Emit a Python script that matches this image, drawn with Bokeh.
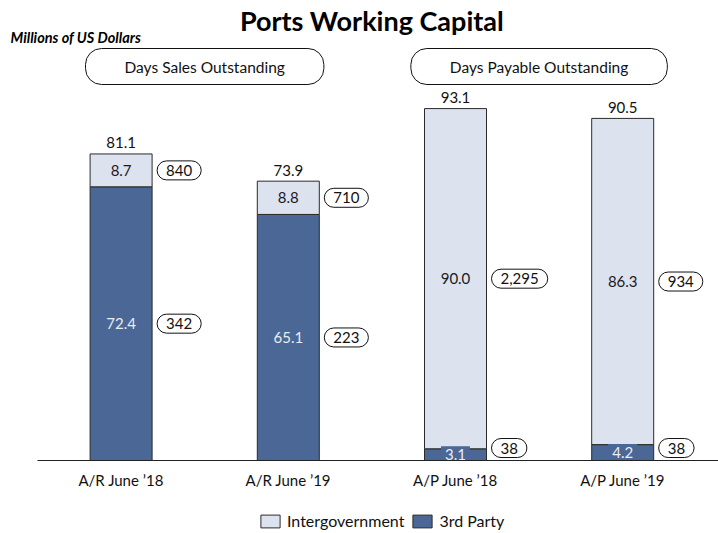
from bokeh.plotting import figure
from bokeh.models import Range1d, FixedTicker, ColumnDataSource, Legend, LegendItem
from bokeh.layouts import column
from bokeh.embed import file_html
from bokeh.resources import INLINE
from bokeh.core.properties import value

# ---- data ----
categories = ["A/R June \u201918", "A/R June \u201919", "A/P June \u201918", "A/P June \u201919"]
third_party = [72.4, 65.1, 3.1, 4.2]
intergov = [8.7, 8.8, 90.0, 86.3]
third_party_pill = ["342", "223", "38", "38"]
intergov_pill = ["840", "710", "2,295", "934"]
groups = ["Days Sales Outstanding", "Days Payable Outstanding"]
series = ["Intergovernment", "3rd Party"]
title_text = "Ports Working Capital"
subtitle_text = "Millions of US Dollars"

# ---- style / layout constants ----
FONT = "Lato"
DARK = "#4a6796"
LIGHT = "#dde3ee"
EDGE = "#2a2a2a"
W = 718
PXU = 3.78      # pixels per data unit (y)
XU = 167.2      # pixels per category step (x)
FRAME_H = 460
X0 = 120.6      # page x of first category
X_START = -X0 / XU
X_END = X_START + W / XU
BAR_W = 62 / XU

def ypx(page_y):
    return (FRAME_H - page_y) / PXU

def xpx(page_x):
    return X_START + page_x / XU

xs = list(range(len(categories)))
totals = [a + b for a, b in zip(third_party, intergov)]

src = ColumnDataSource(dict(
    x=xs,
    tp=third_party,
    tot=totals,
    tp_mid=[v / 2 for v in third_party],
    ig_mid=[a + b / 2 for a, b in zip(third_party, intergov)],
    tp_lbl=[f"{v:.1f}" for v in third_party],
    ig_lbl=[f"{v:.1f}" for v in intergov],
    tot_lbl=[f"{v:.1f}" for v in totals],
    pill_x=[x + BAR_W / 2 + 5 / XU for x in xs],
    tp_pill_y=[max(v / 2, 3.3) for v in third_party],
    tp_pill=third_party_pill,
    ig_pill=intergov_pill,
))

p = figure(width=W, height=505, output_backend="svg", toolbar_location=None,
           x_range=Range1d(X_START, X_END),
           y_range=Range1d(0, FRAME_H / PXU),
           min_border_left=0, min_border_right=0, min_border_top=0, min_border_bottom=45,
           y_axis_location=None)
p.outline_line_color = None
p.grid.visible = False
p.background_fill_color = "white"

# bars
r_dark = p.vbar(x="x", bottom=0, top="tp", width=BAR_W, source=src,
                fill_color=DARK, line_color=EDGE, line_width=1)
r_light = p.vbar(x="x", bottom="tp", top="tot", width=BAR_W, source=src,
                 fill_color=LIGHT, line_color=EDGE, line_width=1)

# in-bar labels
p.text(x="x", y="ig_mid", text="ig_lbl", source=src, text_font=value(FONT),
       text_font_size="15px", text_color="#1a1a1a", text_align="center", text_baseline="middle")
p.text(x="x", y="tp_mid", text="tp_lbl", source=src, text_font=value(FONT),
       text_font_size="15px", text_color="#e9edf4", text_align="center", text_baseline="middle",
       background_fill_color=DARK, padding=(4, 3))
# totals
p.text(x="x", y="tot", text="tot_lbl", source=src, text_font=value(FONT), y_offset=-11,
       text_font_size="15px", text_color="#111111", text_align="center", text_baseline="middle")

# pills
for ycol, tcol in (("ig_mid", "ig_pill"), ("tp_pill_y", "tp_pill")):
    p.text(x="pill_x", y=ycol, text=tcol, source=src, text_font=value(FONT),
           text_font_size="15px", text_color="#111111", text_align="left", text_baseline="middle",
           padding=(9, 4), border_radius=10, background_fill_color="white",
           border_line_color="#111111", border_line_width=1)

# group headers
hsrc = ColumnDataSource(dict(x=[0.5, 2.5], y=[ypx(66)] * 2, t=groups))
p.text(x="x", y="y", text="t", source=hsrc, text_font=value(FONT), text_font_size="15.5px",
       text_color="#111111", text_align="center", text_baseline="middle",
       padding=(39, 9), border_radius=16, background_fill_color="white",
       border_line_color="#111111", border_line_width=1)

# title & subtitle
p.text(x=[1.5], y=[ypx(20)], text=[title_text], text_font=value(FONT), text_font_size="27px",
       text_font_style="bold", text_color="#000000", text_align="center", text_baseline="middle")
p.text(x=[xpx(10)], y=[ypx(37)], text=[subtitle_text], text_font=value(FONT), text_font_size="14.5px",
       text_font_style="bold italic", text_color="#000000", text_align="left", text_baseline="middle")

# x axis
ax = p.xaxis[0]
ax.ticker = FixedTicker(ticks=xs)
ax.major_label_overrides = {x: c for x, c in zip(xs, categories)}
ax.bounds = (xpx(37), X_END)
ax.major_tick_line_color = None
ax.minor_tick_line_color = None
ax.major_tick_out = 0
ax.major_tick_in = 0
ax.axis_line_color = "#222222"
ax.axis_line_width = 1
ax.major_label_standoff = 10
ax.major_label_text_font = FONT
ax.major_label_text_font_size = "15px"
ax.major_label_text_color = "#111111"

# legend strip (separate figure below the chart)
lf = figure(width=W, height=28, output_backend="svg", toolbar_location=None,
            x_range=Range1d(0, 1), y_range=Range1d(0, 1),
            min_border_left=0, min_border_right=0, min_border_top=0, min_border_bottom=0,
            x_axis_location=None, y_axis_location=None)
lf.outline_line_color = None
lf.grid.visible = False
# legend-only glyphs with undefined (NaN) coordinates: nothing is drawn in the strip
nan = float("nan")
lg_light = lf.vbar(x=[nan], bottom=[nan], top=[nan], width=0.01, fill_color=LIGHT,
                   line_color=EDGE, line_width=1)
lg_dark = lf.vbar(x=[nan], bottom=[nan], top=[nan], width=0.01, fill_color=DARK,
                  line_color=EDGE, line_width=1)
legend = Legend(items=[LegendItem(label=series[0], renderers=[lg_light]),
                       LegendItem(label=series[1], renderers=[lg_dark])],
                orientation="horizontal", location=(258, 3),
                padding=0, margin=0, spacing=6, label_standoff=5,
                glyph_width=24, glyph_height=16, label_height=16,
                label_text_font=FONT, label_text_font_size="16px", label_text_color="#111111",
                border_line_color=None, background_fill_alpha=0)
lf.add_layout(legend)

open("out.html", "w").write(file_html(column(p, lf, spacing=0), INLINE))
